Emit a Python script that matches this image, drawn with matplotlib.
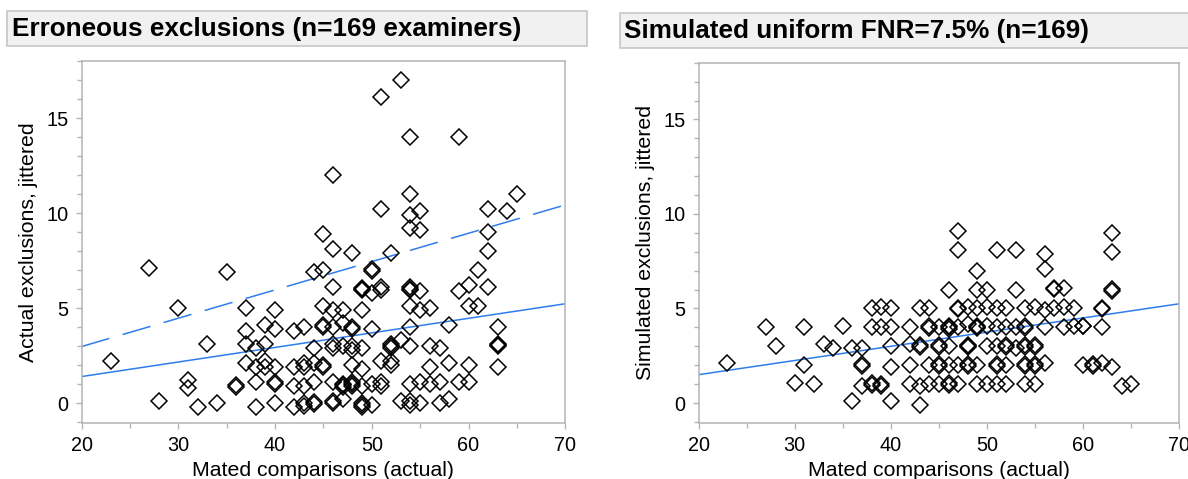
import matplotlib
matplotlib.use("Agg")
import matplotlib.pyplot as plt
from matplotlib.patches import Rectangle
from matplotlib.ticker import MultipleLocator
import numpy as np

plt.rcParams['font.family'] = ['Liberation Sans', 'DejaVu Sans']

# ======================================================
# DANE
# ======================================================

# lewy panel: rzeczywiste wykluczenia (x = porownania, y = wykluczenia z jitterem)
act_x = [23, 27, 28, 30, 31, 31, 32, 33, 34, 35, 36, 36,
         37, 37, 37, 37, 38, 38, 38, 38, 39, 39, 39, 39,
         40, 40, 40, 40, 40, 40, 42, 42, 42, 42,
         43, 43, 43, 43, 43, 43, 44, 44, 44, 44, 44, 44,
         45, 45, 45, 45, 45, 45, 45,
         46, 46, 46, 46, 46, 46, 46, 46, 46, 46,
         47, 47, 47, 47, 47, 47, 47,
         48, 48, 48, 48, 48, 48, 48, 48, 48,
         49, 49, 49, 49, 49, 49, 49, 49, 49, 49,
         50, 50, 50, 50, 50, 50,
         51, 51, 51, 51, 51, 51, 51,
         52, 52, 52, 52, 52, 52,
         53, 53, 53,
         54, 54, 54, 54, 54, 54, 54, 54, 54, 54, 54, 54, 54,
         55, 55, 55, 55, 55, 55,
         56, 56, 56, 56, 57, 57, 57, 58, 58, 58,
         59, 59, 59, 60, 60, 60, 60, 61, 61,
         62, 62, 62, 62, 63, 63, 63, 63, 63, 64, 65]
act_y = [2.2, 7.1, 0.1, 5.0, 1.2, 0.8, -0.2, 3.1, 0.0, 6.9, 0.95, 0.85,
         5.0, 3.8, 3.1, 2.1, 2.9, 1.9, 1.1, -0.2, 4.1, 3.1, 2.2, 1.9,
         4.9, 3.9, 1.9, 1.1, 1.0, 0.0, 3.8, 1.9, 0.9, -0.2,
         4.0, 2.1, 1.9, 0.9, 0.0, -0.15, 6.9, 2.9, 2.1, 1.1, 0.05, -0.05,
         8.9, 7.0, 5.1, 4.1, 4.0, 1.9, 2.0,
         12.0, 8.1, 6.1, 4.9, 4.0, 3.1, 2.9, 1.1, 0.1, 0.0,
         4.9, 4.2, 3.0, 0.95, 0.85, 0.2, 1.0,
         7.9, 4.0, 3.9, 3.0, 2.8, 2.0, 1.0, 0.9, 1.1,
         6.0, 5.95, 4.9, 2.9, 1.8, 0.9, 0.0, -0.1, -0.2, 6.05,
         7.05, 6.95, 5.8, 3.9, 1.0, -0.1,
         16.1, 10.2, 6.1, 5.95, 2.2, 1.1, 0.9,
         7.9, 3.1, 2.9, 2.2, 2.0, 3.0,
         17.0, 3.3, 0.1,
         14.0, 11.0, 9.9, 9.2, 6.1, 5.95, 5.1, 4.0, 3.0, 1.0, 0.1, -0.1, 6.0,
         10.1, 9.1, 5.9, 4.9, 1.1, 0.0,
         5.0, 3.0, 1.9, 1.0, 2.9, 1.1, 0.0, 4.1, 2.1, 0.2,
         14.0, 5.9, 1.1, 6.2, 5.1, 2.0, 1.1, 7.0, 5.1,
         10.2, 9.0, 8.0, 6.1, 4.0, 3.1, 3.05, 3.0, 1.9, 10.1, 11.0]

# prawy panel: symulacja FNR = 7.5%
sim_x = [23, 27, 28, 30, 31, 31, 32, 33, 34, 35, 36, 36,
         37, 37, 37, 37, 38, 38, 38, 38, 39, 39, 39, 39,
         40, 40, 40, 40, 40, 42, 42, 42, 42,
         43, 43, 43, 43, 43, 44, 44, 44, 44, 44,
         45, 45, 45, 45, 45, 45,
         46, 46, 46, 46, 46, 46, 46, 46,
         47, 47, 47, 47, 47, 47, 47,
         48, 48, 48, 48, 48, 48, 48,
         49, 49, 49, 49, 49, 49, 49, 49,
         50, 50, 50, 50, 50,
         51, 51, 51, 51, 51, 51, 51,
         52, 52, 52, 52, 52, 52,
         53, 53, 53, 53,
         54, 54, 54, 54, 54, 54, 54, 54,
         55, 55, 55, 55, 55, 55,
         56, 56, 56, 56, 56, 57, 57, 57, 58, 58, 58, 59, 59,
         60, 60, 60, 61, 61, 62, 62, 62, 62,
         63, 63, 63, 63, 63, 64, 65]
sim_y = [2.1, 4.0, 3.0, 1.05, 4.0, 2.0, 1.0, 3.1, 2.9, 4.1, 2.9, 0.1,
         2.9, 2.05, 1.95, 0.9, 5.0, 4.0, 1.05, 0.95, 5.1, 4.0, 1.0, 0.9,
         5.0, 4.0, 3.0, 1.9, 0.1, 4.0, 3.1, 2.0, 1.0,
         5.0, 3.05, 2.95, 0.9, -0.1, 5.0, 4.05, 3.95, 2.0, 1.0,
         4.0, 3.05, 2.95, 2.05, 1.95, 1.0,
         6.0, 4.1, 4.0, 3.9, 3.0, 2.0, 1.05, 0.95,
         9.1, 8.1, 5.05, 4.95, 4.0, 2.0, 1.0,
         5.1, 4.2, 3.05, 3.0, 2.95, 2.05, 1.95,
         7.0, 6.0, 5.0, 4.05, 4.0, 3.95, 2.0, 1.0,
         6.0, 5.1, 4.1, 3.0, 1.0,
         8.1, 5.0, 4.0, 3.0, 2.05, 1.95, 1.0,
         5.0, 4.0, 3.05, 2.95, 2.0, 1.0,
         8.1, 6.0, 4.0, 2.9,
         5.0, 4.05, 3.95, 3.05, 2.95, 2.05, 1.95, 1.0,
         5.1, 3.05, 2.95, 2.05, 1.95, 1.0,
         7.9, 7.1, 4.9, 4.0, 2.1, 6.1, 6.05, 5.0, 6.1, 5.1, 4.0, 5.0, 4.1,
         4.1, 4.05, 2.0, 2.05, 1.95, 5.0, 4.95, 4.0, 2.1,
         9.0, 8.0, 6.05, 5.95, 1.9, 0.9, 1.0]

# linie dopasowania (nachylenie, wyraz wolny)
act_fit = (0.0766, -0.13)
act_fit_2x = (0.149, 0.0)
sim_fit = (0.075, 0.0)

X_RANGE = (20, 70)

TITLES = ["Erroneous exclusions (n=169 examiners)",
          "Simulated uniform FNR=7.5% (n=169)"]
YLABELS = ["Actual exclusions, jittered",
           "Simulated exclusions, jittered"]
XLABEL = "Mated comparisons (actual)"

LINE_COLOR = '#2f7ded'
FRAME_COLOR = '#b4b4b4'

# ======================================================
# WYKRES
# ======================================================

W, H = 1188, 479
fig = plt.figure(figsize=(W / 100, H / 100), dpi=100)


def px_rect(x0, y0, x1, y1):
    # piksele (od gory) -> ulamki figury
    return [x0 / W, 1 - y1 / H, (x1 - x0) / W, (y1 - y0) / H]


def style_axes(ax, ylabel):
    ax.set_xlim(*X_RANGE)
    ax.set_ylim(-1.04, 18.0)
    ax.xaxis.set_major_locator(MultipleLocator(10))
    ax.xaxis.set_minor_locator(MultipleLocator(5))
    ax.yaxis.set_major_locator(MultipleLocator(5))
    ax.yaxis.set_minor_locator(MultipleLocator(1))
    for s in ax.spines.values():
        s.set_color(FRAME_COLOR)
        s.set_linewidth(1.1)
    ax.tick_params(which='major', length=4.5, width=1.0, color=FRAME_COLOR,
                   labelsize=14.3, pad=5)
    ax.tick_params(which='minor', length=3.3, width=1.0, color=FRAME_COLOR)
    ax.set_xlabel(XLABEL, fontsize=15.3, labelpad=4.5)
    ax.set_ylabel(ylabel, fontsize=15.3, labelpad=6)


def draw_title(rect, text, tx, ty):
    fig.patches.append(Rectangle((rect[0], rect[1]), rect[2], rect[3],
                                 transform=fig.transFigure, facecolor='#f1f1f1',
                                 edgecolor='#c6c6c6', linewidth=1.2))
    fig.text(tx / W, 1 - ty / H, text, fontsize=18.8, fontweight='bold',
             ha='left', va='center')


def fit_line(ax, fit, **kw):
    xs = np.array(X_RANGE, dtype=float)
    ax.plot(xs, fit[0] * xs + fit[1], color=LINE_COLOR, lw=1.1, **kw)


ax1 = fig.add_axes(px_rect(81.5, 61, 565.3, 423))
ax2 = fig.add_axes(px_rect(698.6, 62.7, 1179.3, 422.7))

for ax, xs, ys in [(ax1, act_x, act_y), (ax2, sim_x, sim_y)]:
    ax.plot(xs, ys, linestyle='none', marker='D', markersize=7.8,
            markerfacecolor='none', markeredgecolor='black',
            markeredgewidth=1.1, zorder=3)

fit_line(ax1, act_fit)
fit_line(ax1, act_fit_2x, dashes=(19, 9))
fit_line(ax2, sim_fit)

style_axes(ax1, YLABELS[0])
style_axes(ax2, YLABELS[1])

draw_title(px_rect(6.5, 11, 586.7, 46), TITLES[0], 11.5, 29)
draw_title(px_rect(619.5, 13, 1195, 48), TITLES[1], 624.5, 31)

fig.savefig('out.png', dpi=100)
